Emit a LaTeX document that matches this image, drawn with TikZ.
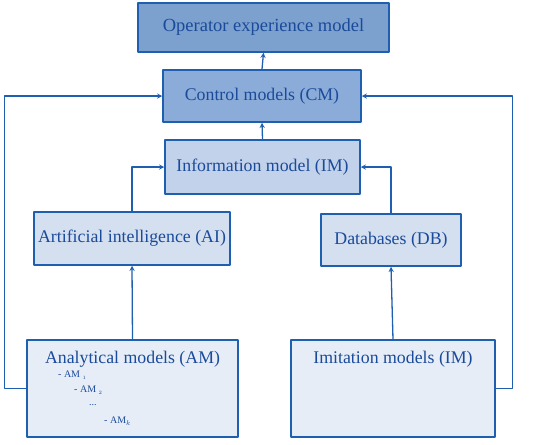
\documentclass[tikz,border=0pt]{standalone}
\usepackage{fontspec}
\setmainfont{Liberation Serif}
\definecolor{lineblue}{HTML}{1F5FB0}
\definecolor{textblue}{HTML}{1A4A9A}
\definecolor{opfill}{HTML}{7DA1CF}
\definecolor{cmfill}{HTML}{8BACD8}
\definecolor{imfill}{HTML}{C2D2EA}
\definecolor{aifill}{HTML}{D4DFEF}
\definecolor{amfill}{HTML}{E6EDF7}
\tikzset{
  box/.style={draw=lineblue,line width=1.5pt,text=textblue,inner sep=0pt},
  arr/.style={->,draw=lineblue,line width=1.3pt},
  item/.style={text=textblue,anchor=west,inner sep=0pt,font=\fontsize{10}{12}\selectfont}
}
\begin{document}
\begin{tikzpicture}[>=stealth,line join=round,x=1pt,y=-1pt,font=\fontsize{17.8}{20}\selectfont]
			\useasboundingbox (0,0) rectangle (550,445);
			\node[box,fill=opfill,minimum width=251pt,minimum height=49pt,font=\fontsize{18.5}{20}\selectfont] (op) at (263.5,27.5) {Operator experience model};
			\node[box,fill=cmfill,minimum width=198pt,minimum height=52pt] (cm) at (262,96) {Control models (CM)};
			\node[box,fill=imfill,minimum width=195pt,minimum height=54pt] (im) at (262.5,167) {Information model (IM)};
			\node[box,fill=aifill,minimum width=196pt,minimum height=53pt] (ai) at (132,238.5) {Artificial intelligence (AI)};
			\node[box,fill=aifill,minimum width=140pt,minimum height=52pt] (db) at (391,240) {Databases (DB)};
			\node[box,fill=amfill,minimum width=211pt,minimum height=97pt] (am) at (132.5,388.5) {};
			\node[box,fill=amfill,minimum width=204pt,minimum height=97pt] (imit) at (393,388.5) {};
			\node[text=textblue,anchor=north] (amtitle) at ([yshift=-8pt]am.north) {Analytical models (AM)};
			\node[text=textblue,anchor=north] (imittitle) at ([yshift=-8pt]imit.north) {Imitation models (IM)};
			\foreach \x/\y/\t [count=\i] in {58/375/{- AM $_{\scriptscriptstyle 1}$},74/390/{- AM $_{\scriptscriptstyle 2}$},89/405/{...},104/421/{- AM$_{k}$}}
			\node[item] (amitem\i) at (\x,\y) {\t};
			\draw[arr] (cm.north) -- (op.south);
			\draw[arr] (im.north) -- (cm.south);
			\draw[arr] (ai.north) |- (im.west);
			\draw[arr] (db.north) |- (im.east);
			\draw[arr] (am.north) -- (ai.south);
			\draw[arr] (imit.north) -- (db.south);
			\draw[arr] (am.west) -- ++(-22,0) |- (cm.west);
			\draw[arr] (imit.east) -- ++(17,0) |- (cm.east);
		\end{tikzpicture}
\end{document}
